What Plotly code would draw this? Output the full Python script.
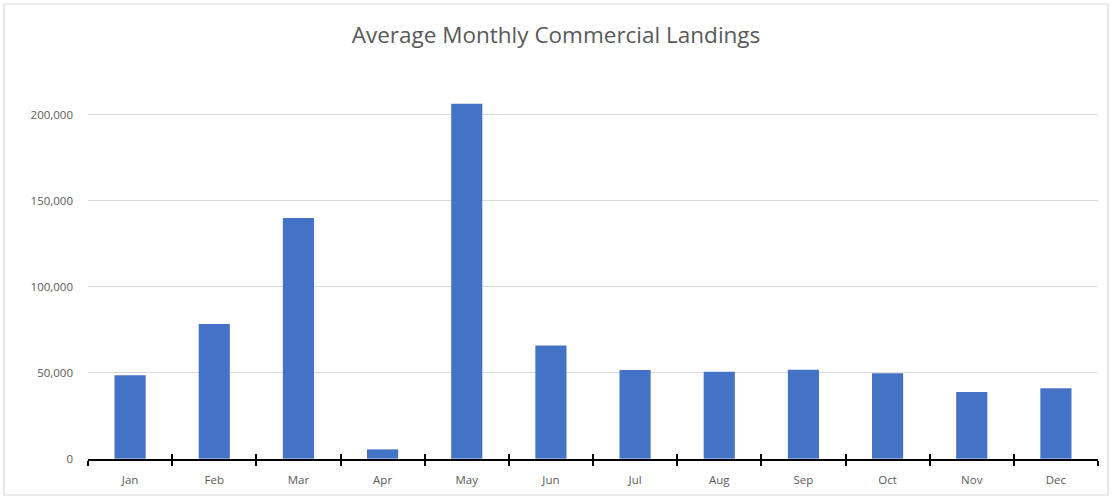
import plotly.graph_objects as go

months = ["Jan", "Feb", "Mar", "Apr", "May", "Jun", "Jul", "Aug", "Sep", "Oct", "Nov", "Dec"]
landings = [48700, 78500, 140100, 5600, 206400, 65900, 51700, 50700, 51900, 49800, 38900, 41100]
y_ticks = [0, 50000, 100000, 150000, 200000]

fig = go.Figure()
fig.add_trace(go.Bar(x=months, y=landings, marker=dict(color="#4472C4", line=dict(width=0)),
                     width=0.37, showlegend=False))
# invisible trace for the inside half of the crossing tick marks
fig.add_trace(go.Bar(x=months, y=[0]*len(months), xaxis="x2", showlegend=False,
                     marker=dict(color="rgba(0,0,0,0)"), hoverinfo="skip"))

font_family = "Open Sans"
fig.update_layout(
    width=1112, height=499,
    margin=dict(l=88, r=14, t=89, b=40),
    paper_bgcolor="white", plot_bgcolor="white",
    title=dict(text="Average Monthly Commercial Landings", x=0.5, xanchor="center",
               y=1 - 35/499, yanchor="middle",
               font=dict(family=font_family, size=22.5, color="#595959")),
    font=dict(family=font_family, size=11, color="#595959"),
    bargap=0.63,
    xaxis=dict(type="category", categoryorder="array", categoryarray=months,
               showline=True, linecolor="black", linewidth=1.5,
               ticks="outside", ticklen=5, tickwidth=1.5, tickcolor="black",
               tickson="boundaries", showgrid=False, ticklabelstandoff=9,
               tickfont=dict(family=font_family, size=11.5, color="#595959")),
    xaxis2=dict(type="category", categoryorder="array", categoryarray=months,
                overlaying="x", matches="x", showticklabels=False, showline=False,
                ticks="inside", ticklen=5, tickwidth=1.5, tickcolor="black",
                tickson="boundaries", showgrid=False),
    yaxis=dict(range=[0, 215000], tickvals=y_ticks, tickformat=",",
               showgrid=True, gridcolor="#D9D9D9", gridwidth=1,
               zeroline=False, showline=False, ticks="", ticklabelstandoff=14,
               tickfont=dict(family=font_family, size=11.5, color="#595959")),
)
fig.add_shape(type="rect", xref="paper", yref="paper", x0=-84/1010, x1=1 + 10/1010,
              y0=-36/370, y1=1 + 85/370, line=dict(color="#D9D9D9", width=1.2),
              fillcolor="rgba(0,0,0,0)", layer="below")

fig.write_html("out.html", config={"displayModeBar": False},
               post_script="document.body.style.margin='0';")
